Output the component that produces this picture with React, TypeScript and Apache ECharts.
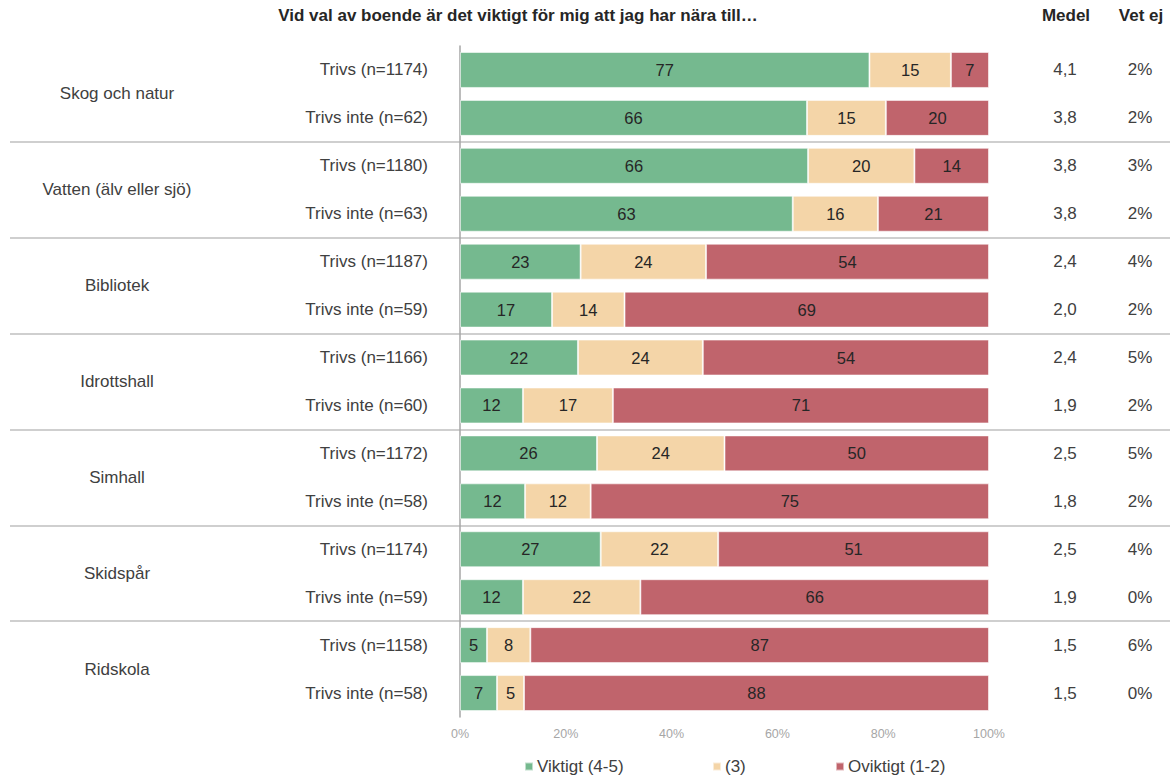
import React, { useEffect, useRef } from "react";
import * as echarts from "echarts";

const groups = [
  "Skog och natur",
  "Vatten (älv eller sjö)",
  "Bibliotek",
  "Idrottshall",
  "Simhall",
  "Skidspår",
  "Ridskola",
];

const rows = [
  "Trivs (n=1174)", "Trivs inte (n=62)",
  "Trivs (n=1180)", "Trivs inte (n=63)",
  "Trivs (n=1187)", "Trivs inte (n=59)",
  "Trivs (n=1166)", "Trivs inte (n=60)",
  "Trivs (n=1172)", "Trivs inte (n=58)",
  "Trivs (n=1174)", "Trivs inte (n=59)",
  "Trivs (n=1158)", "Trivs inte (n=58)",
];

const viktigt = [77.4, 65.6, 65.8, 62.9, 22.8, 17.4, 22.3, 11.9, 25.9, 12.3, 26.6, 11.9, 5.1, 7.0];
const neutral = [15.4, 14.9, 20.1, 16.1, 23.7, 13.7, 23.6, 17.0, 24.1, 12.4, 22.2, 22.2, 8.2, 5.1];
const oviktigt = [7.2, 19.5, 14.1, 21.0, 53.5, 68.9, 54.1, 71.1, 50.0, 75.3, 51.2, 65.9, 86.7, 87.9];

const medel = ["4,1", "3,8", "3,8", "3,8", "2,4", "2,0", "2,4", "1,9", "2,5", "1,8", "2,5", "1,9", "1,5", "1,5"];
const vetEj = ["2%", "2%", "3%", "2%", "4%", "2%", "5%", "2%", "5%", "2%", "4%", "0%", "6%", "0%"];

const seriesNames = ["Viktigt (4-5)", "(3)", "Oviktigt (1-2)"];
const colors = ["#75b98f", "#f4d5a8", "#c0646c"];

const FONT = "'Liberation Sans', Arial, sans-serif";
const FS = 17;

export default function App() {
  const ref = useRef<HTMLDivElement>(null);

  useEffect(() => {
    if (!ref.current) return;
    const chart = echarts.init(ref.current, null, { renderer: "svg" });
    const gridTop = 46;
    const gridHeight = 671;

    const barSeries = [viktigt, neutral, oviktigt].map((d, i) => ({
      name: seriesNames[i],
      type: "bar",
      stack: "total",
      xAxisIndex: 0,
      yAxisIndex: 0,
      barCategoryGap: "25%",
      data: d,
      itemStyle: { color: colors[i], borderColor: "rgba(255,255,255,0.55)", borderWidth: 1 },
      label: {
        show: true,
        position: "inside",
        color: "#262626",
        fontSize: 16.5,
        fontFamily: FONT,
        formatter: (p: any) => String(Math.round(p.value)),
      },
    }));

    const legendBase = {
      orient: "horizontal",
      top: 758,
      itemWidth: 8,
      itemHeight: 8,
      itemGap: 0,
      padding: 0,
      icon: "rect",
      textStyle: { fontSize: FS, color: "#404040", fontFamily: FONT, padding: [0, 0, 0, -1] },
    };

    const boldText = (text: string, x: number) => ({
      type: "text",
      x,
      y: 15,
      style: {
        text,
        font: `bold 17px ${FONT}`,
        fill: "#262626",
        textAlign: "center",
        textVerticalAlign: "middle",
      },
    });

    chart.setOption({
      animation: false,
      textStyle: { fontFamily: FONT },
      legend: [
        { ...legendBase, left: 524, data: [seriesNames[0]] },
        { ...legendBase, left: 712, data: [seriesNames[1]] },
        { ...legendBase, left: 835, data: [seriesNames[2]] },
      ],
      grid: [
        { left: 460, right: 181, top: gridTop, height: gridHeight, containLabel: false },
        { left: 10, right: 0, top: gridTop, height: gridHeight, containLabel: false },
      ],
      xAxis: [
        {
          type: "value",
          gridIndex: 0,
          min: 0,
          max: 100,
          interval: 20,
          axisLine: { show: false },
          axisTick: { show: false },
          splitLine: { show: false },
          axisLabel: { formatter: "{value}%", color: "#a6a6a6", fontSize: 12.5, margin: 10, fontFamily: FONT },
        },
        { type: "value", gridIndex: 1, show: false, min: 0, max: 1 },
      ],
      yAxis: [
        {
          type: "category",
          gridIndex: 0,
          data: rows,
          inverse: true,
          axisLine: { show: true, lineStyle: { color: "#a6a6a6", width: 1.5 } },
          axisTick: { show: false },
          axisLabel: { color: "#404040", fontSize: FS, margin: 32, fontFamily: FONT },
        },
        {
          type: "category",
          gridIndex: 0,
          data: groups,
          inverse: true,
          position: "left",
          axisLine: { show: false },
          axisTick: { show: false },
          axisLabel: { color: "#404040", fontSize: FS, margin: 343, align: "center", fontFamily: FONT },
        },
        {
          type: "category",
          gridIndex: 0,
          data: medel,
          inverse: true,
          position: "right",
          axisLine: { show: false },
          axisTick: { show: false },
          axisLabel: { color: "#404040", fontSize: FS, margin: 76, align: "center", fontFamily: FONT },
        },
        {
          type: "category",
          gridIndex: 0,
          data: vetEj,
          inverse: true,
          position: "right",
          axisLine: { show: false },
          axisTick: { show: false },
          axisLabel: { color: "#404040", fontSize: FS, margin: 151, align: "center", fontFamily: FONT },
        },
        {
          type: "category",
          gridIndex: 1,
          data: groups,
          inverse: true,
          axisLine: { show: false },
          axisTick: { show: false },
          axisLabel: { show: false },
          splitLine: {
            show: true,
            showMinLine: false,
            showMaxLine: false,
            lineStyle: { color: "#bfbfbf", width: 1.5 },
          },
        },
      ],
      graphic: [
        boldText("Vid val av boende är det viktigt för mig att jag har nära till…", 518),
        boldText("Medel", 1066),
        boldText("Vet ej", 1141),
      ],
      series: barSeries,
    });

    return () => chart.dispose();
  }, []);

  return (
    <div
      ref={ref}
      style={{ position: "fixed", left: 0, top: 0, width: 1170, height: 776, background: "#fff" }}
    />
  );
}
